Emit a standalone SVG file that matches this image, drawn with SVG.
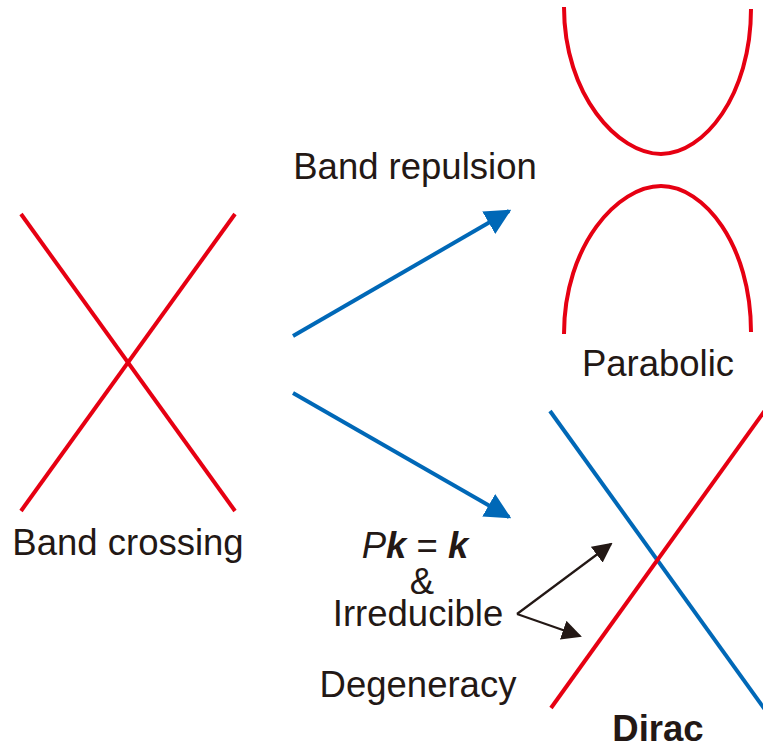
<svg xmlns="http://www.w3.org/2000/svg" width="763" height="751" viewBox="0 0 763 751">
<style>
.red{stroke:#e60012;stroke-width:4;fill:none}
.blue{stroke:#0068b7;stroke-width:4;fill:none}
.blk{stroke:#231815;stroke-width:2.2;fill:none}
text{font-family:"Liberation Sans",Arial,sans-serif;fill:#231815;font-size:36.5px}
</style>
<defs>
<marker id="ab" viewBox="0 0 10 10" refX="9" refY="5" markerWidth="6.5" markerHeight="6.5" markerUnits="strokeWidth" orient="auto"><path d="M0,0 L10,5 L0,10 z" fill="#0068b7"/></marker>
<marker id="ak" viewBox="0 0 10 10" refX="9" refY="5" markerWidth="9" markerHeight="9" markerUnits="strokeWidth" orient="auto"><path d="M0,0 L10,5 L0,10 z" fill="#231815"/></marker>
</defs>
<rect width="763" height="751" fill="#fff"/>
<g id="band-crossing">
<line class="red" x1="21" y1="214" x2="235" y2="511"/>
<line class="red" x1="235" y1="214" x2="21" y2="511"/>
<text x="128" y="555" text-anchor="middle">Band crossing</text>
</g>
<g id="parabolic">
<path class="red" d="M564,7 C564,95 618,154 661,154 C704,154 751,95 751,9"/>
<path class="red" d="M564,334 C564,245 618,186 661,186 C704,186 751,245 751,332"/>
<text x="658" y="376" text-anchor="middle">Parabolic</text>
</g>
<g id="dirac">
<line class="blue" x1="550" y1="411" x2="766" y2="711"/>
<line class="red" x1="551" y1="708" x2="766" y2="409"/>
<text x="658" y="741" text-anchor="middle" font-weight="bold" font-size="34">Dirac</text>
</g>
<g id="labels">
<text x="415" y="179" text-anchor="middle">Band repulsion</text>
<text x="415" y="558" text-anchor="middle"><tspan font-style="italic">P</tspan><tspan font-style="italic" font-weight="bold">k</tspan> = <tspan font-style="italic" font-weight="bold">k</tspan></text>
<text x="422" y="594" text-anchor="middle" font-size="23">&amp;</text>
<text x="418" y="626" text-anchor="middle">Irreducible</text>
<text x="418" y="697" text-anchor="middle">Degeneracy</text>
</g>
<g id="connectors">
<line class="blue" x1="293" y1="336" x2="509" y2="211" marker-end="url(#ab)"/>
<line class="blue" x1="293" y1="393" x2="509" y2="517" marker-end="url(#ab)"/>
<line class="blk" x1="517" y1="614" x2="611" y2="544" marker-end="url(#ak)"/>
<line class="blk" x1="517" y1="614" x2="580" y2="636" marker-end="url(#ak)"/>
</g>
</svg>
